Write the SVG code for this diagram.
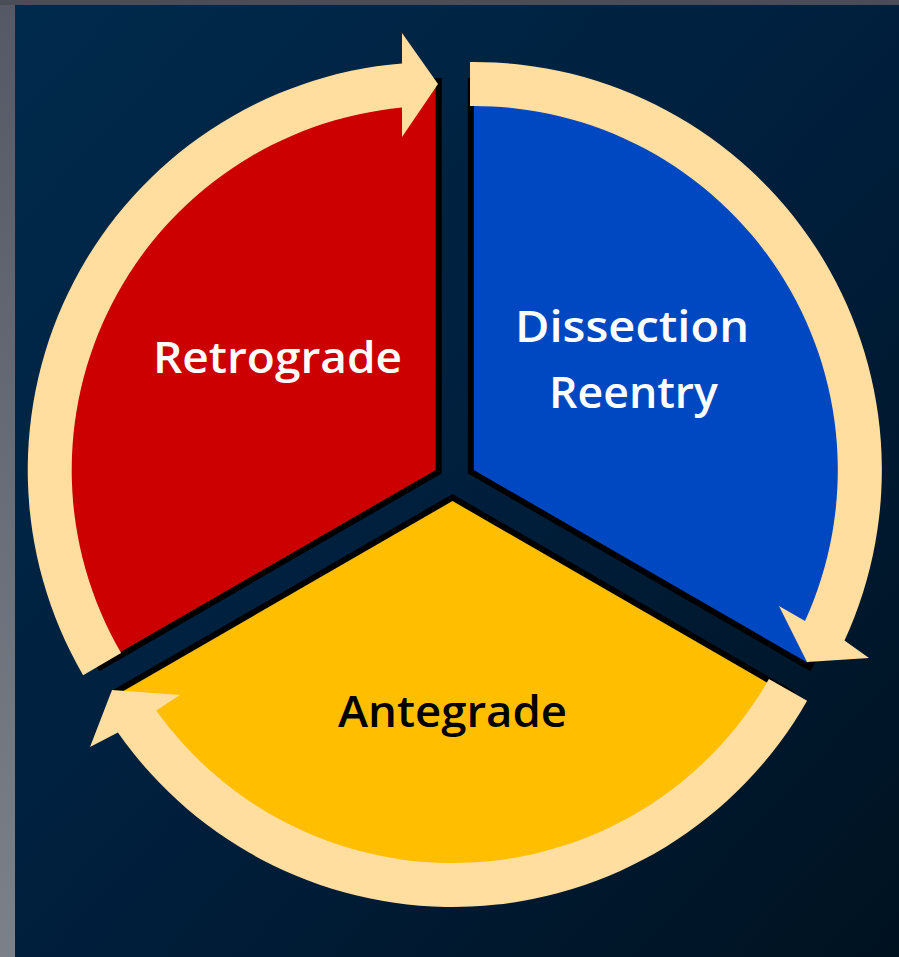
<svg xmlns="http://www.w3.org/2000/svg" width="899" height="957" viewBox="0 0 899 957">
  <defs>
    <linearGradient id="bg" x1="0" y1="0" x2="1" y2="1">
      <stop offset="0" stop-color="#002a4c"/>
      <stop offset="0.5" stop-color="#001f3d"/>
      <stop offset="1" stop-color="#001220"/>
    </linearGradient>
    <linearGradient id="side" x1="0" y1="0" x2="0" y2="1">
      <stop offset="0" stop-color="#555965"/>
      <stop offset="1" stop-color="#7c8088"/>
    </linearGradient>
    <style>
      .wedge { stroke: #000; stroke-width: 12; stroke-linejoin: miter; paint-order: stroke; }
      .arrow { fill: #ffdea0; }
      .lbl { font-family: "Open Sans", "DejaVu Sans", sans-serif; font-weight: 600; font-size: 43px; text-anchor: middle; }
    </style>
  </defs>
  <rect x="0" y="0" width="899" height="957" fill="url(#side)"/>
  <rect x="0" y="0" width="899" height="5" fill="#4a4d57"/>
  <rect x="15" y="5" width="884" height="952" fill="url(#bg)"/>

  <g id="node-retrograde">
    <path class="wedge" fill="#cc0000" d="M 435.7,470 L 435.7,84 A 386 386 0 0 0 101.4,663 Z"/>
    <text class="lbl" x="277.5" y="373" fill="#ffffff" textLength="249" lengthAdjust="spacingAndGlyphs">Retrograde</text>
  </g>
  <g id="node-dissection">
    <path class="wedge" fill="#0048c2" d="M 473.8,470 L 473.8,84 A 386 386 0 0 1 808.1,663 Z"/>
    <text class="lbl" x="632" y="342" fill="#ffffff" textLength="234" lengthAdjust="spacingAndGlyphs">Dissection</text>
    <text class="lbl" x="633.5" y="408" fill="#ffffff" textLength="169" lengthAdjust="spacingAndGlyphs">Reentry</text>
  </g>
  <g id="node-antegrade">
    <path class="wedge" fill="#ffbf00" d="M 452.5,501 L 118.2,694 A 386 386 0 0 0 786.8,694 Z"/>
    <text class="lbl" x="452.5" y="727" fill="#000000" textLength="229" lengthAdjust="spacingAndGlyphs">Antegrade</text>
  </g>

  <g id="connectors">
    <path class="arrow" d="M 121.1,653.1 L 83.1,675.2 A 408 408 0 0 1 402,63.4 L 402,33 L 438,84 L 402,137 L 402,107.6 A 364 364 0 0 0 121.1,653.1 Z"/>
    <path class="arrow" d="M 470,106 L 470,62 A 408 408 0 0 1 844.5,640.5 L 869,658 L 807,662 L 779,606 L 805,621 A 364 364 0 0 0 470,106 Z"/>
    <path class="arrow" d="M 768.9,679.1 L 807.1,700.8 A 408 408 0 0 1 117.9,732.4 L 90,747 L 112,690 L 180,695 L 156.2,710.4 A 364 364 0 0 0 768.9,679.1 Z"/>
  </g>
</svg>
